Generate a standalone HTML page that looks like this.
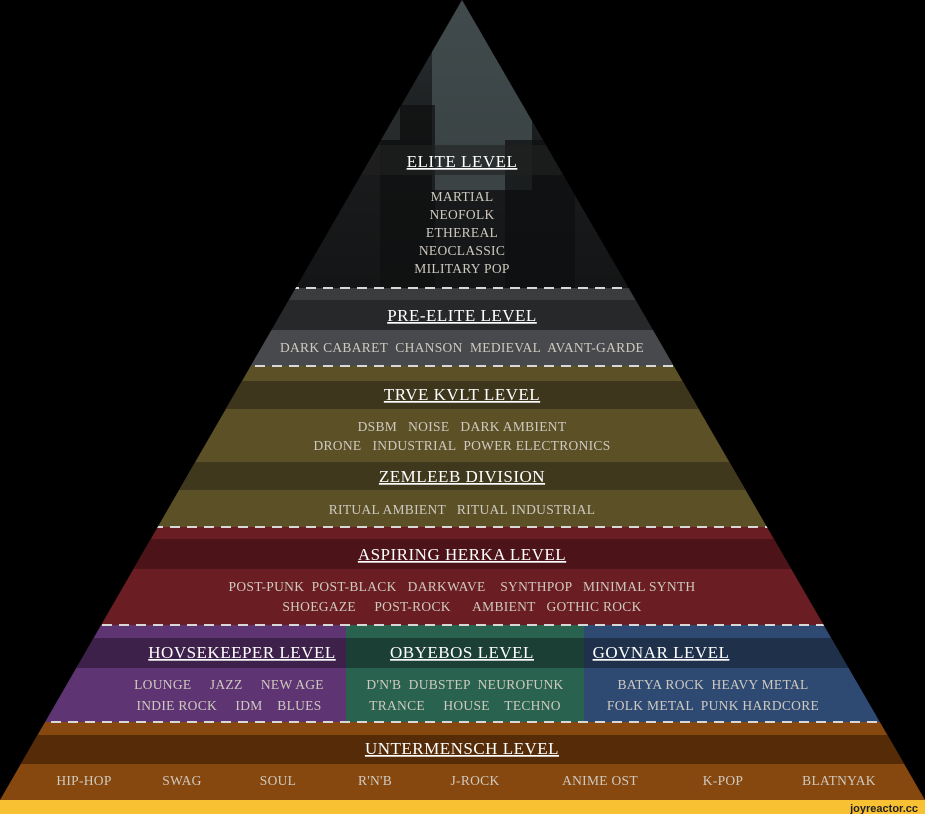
<!DOCTYPE html>
<html><head><meta charset="utf-8"><style>
html,body{margin:0;padding:0;background:#000;}
svg{display:block;}
text{font-family:"Liberation Serif",serif;text-anchor:middle;white-space:pre;}
.h{fill:#fff;font-size:17px;text-decoration:underline;letter-spacing:0.5px;}
.t{fill:#cfcac0;font-size:13.5px;letter-spacing:0.3px;}
</style></head><body>
<svg width="925" height="814" viewBox="0 0 925 814" xmlns="http://www.w3.org/2000/svg" xml:space="preserve">
<defs>
<clipPath id="p"><polygon points="462,0 925,800 0,800"/></clipPath>
<linearGradient id="eg" x1="0" y1="0" x2="0" y2="1">
<stop offset="0" stop-color="#2a3133"/><stop offset="0.5" stop-color="#1a1c1d"/><stop offset="1" stop-color="#141516"/></linearGradient>
</defs>
<rect width="925" height="814" fill="#000"/>
<g clip-path="url(#p)">
<rect x="0" y="0" width="925" height="288" fill="url(#eg)"/>
<rect x="432" y="0" width="100" height="190" fill="#4a5557" opacity="0.7"/>
<rect x="300" y="60" width="100" height="80" fill="#9aa0a2" opacity="0.6"/>
<rect x="380" y="105" width="55" height="183" fill="#0e0f10" opacity="0.7"/>
<rect x="505" y="140" width="70" height="148" fill="#0d0e0f" opacity="0.7"/>
<rect x="0" y="145" width="925" height="30" fill="#222" opacity="0.6"/>
<rect x="0" y="288" width="925" height="12" fill="#3b3c3e"/>
<rect x="0" y="300" width="925" height="30" fill="#27282a"/>
<rect x="0" y="330" width="925" height="36" fill="#48494c"/>
<rect x="0" y="366" width="925" height="161" fill="#5c5027"/>
<rect x="0" y="381" width="925" height="28" fill="#3d361c"/>
<rect x="0" y="462" width="925" height="28" fill="#3f381d"/>
<rect x="0" y="527" width="925" height="98" fill="#6a1d23"/>
<rect x="0" y="539" width="925" height="30" fill="#4c1318"/>
<rect x="0" y="625" width="346" height="97" fill="#5e3472"/>
<rect x="346" y="625" width="238" height="97" fill="#2a6250"/>
<rect x="584" y="625" width="341" height="97" fill="#2f4a72"/>
<rect x="0" y="638" width="925" height="30" fill="#000" opacity="0.35"/>
<rect x="0" y="722" width="925" height="78" fill="#87480f"/>
<rect x="0" y="735" width="925" height="29" fill="#552c07"/>
<g stroke="#d8d8d8" stroke-width="2" stroke-dasharray="10 7">
<line x1="0" y1="288" x2="925" y2="288"/>
<line x1="0" y1="366" x2="925" y2="366"/>
<line x1="0" y1="527" x2="925" y2="527"/>
<line x1="0" y1="625" x2="925" y2="625"/>
<line x1="0" y1="722" x2="925" y2="722"/>
</g>
</g>
<rect x="0" y="800" width="925" height="14" fill="#f8c133"/>
<text x="918" y="812" style="text-anchor:end;font-family:'Liberation Sans',sans-serif;font-weight:bold;font-size:11px;fill:#222">joyreactor.cc</text>

<text class="h" x="462" y="167">ELITE LEVEL</text>
<text class="t" x="462" y="201">MARTIAL</text>
<text class="t" x="462" y="219">NEOFOLK</text>
<text class="t" x="462" y="237">ETHEREAL</text>
<text class="t" x="462" y="255">NEOCLASSIC</text>
<text class="t" x="462" y="273">MILITARY POP</text>

<text class="h" x="462" y="321">PRE-ELITE LEVEL</text>
<text class="t" x="462" y="352">DARK CABARET  CHANSON  MEDIEVAL  AVANT-GARDE</text>

<text class="h" x="462" y="400">TRVE KVLT LEVEL</text>
<text class="t" x="462" y="431">DSBM   NOISE   DARK AMBIENT</text>
<text class="t" x="462" y="450">DRONE   INDUSTRIAL  POWER ELECTRONICS</text>
<text class="h" x="462" y="482">ZEMLEEB DIVISION</text>
<text class="t" x="462" y="514">RITUAL AMBIENT   RITUAL INDUSTRIAL</text>

<text class="h" x="462" y="560">ASPIRING HERKA LEVEL</text>
<text class="t" x="462" y="591">POST-PUNK  POST-BLACK   DARKWAVE    SYNTHPOP   MINIMAL SYNTH</text>
<text class="t" x="462" y="611">SHOEGAZE     POST-ROCK      AMBIENT   GOTHIC ROCK</text>

<text class="h" x="242" y="658">HOVSEKEEPER LEVEL</text>
<text class="h" x="462" y="658">OBYEBOS LEVEL</text>
<text class="h" x="661" y="658">GOVNAR LEVEL</text>
<text class="t" x="229" y="689">LOUNGE     JAZZ     NEW AGE</text>
<text class="t" x="229" y="710">INDIE ROCK     IDM    BLUES</text>
<text class="t" x="465" y="689">D'N'B  DUBSTEP  NEUROFUNK</text>
<text class="t" x="465" y="710">TRANCE     HOUSE    TECHNO</text>
<text class="t" x="713" y="689">BATYA ROCK  HEAVY METAL</text>
<text class="t" x="713" y="710">FOLK METAL  PUNK HARDCORE</text>

<text class="h" x="462" y="754">UNTERMENSCH LEVEL</text>
<text class="t" x="84" y="785">HIP-HOP</text>
<text class="t" x="182" y="785">SWAG</text>
<text class="t" x="278" y="785">SOUL</text>
<text class="t" x="375" y="785">R'N'B</text>
<text class="t" x="475" y="785">J-ROCK</text>
<text class="t" x="600" y="785">ANIME OST</text>
<text class="t" x="723" y="785">K-POP</text>
<text class="t" x="839" y="785">BLATNYAK</text>
</svg>
</body></html>
